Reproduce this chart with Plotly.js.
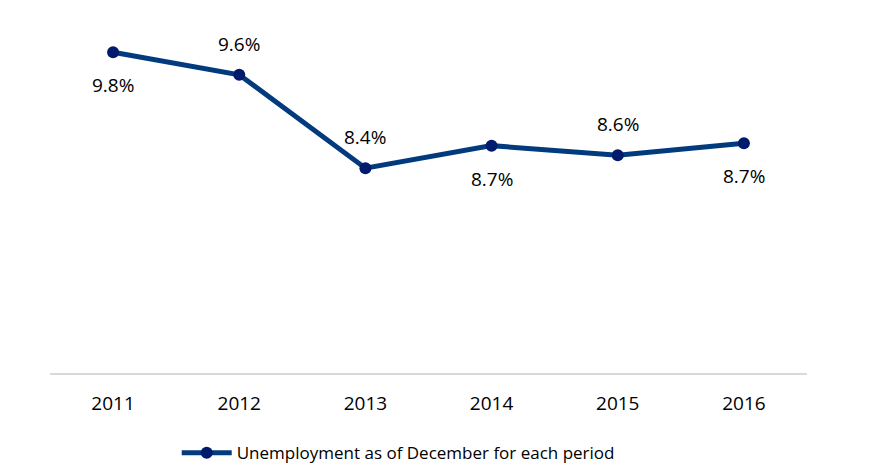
<!DOCTYPE html>
<html>
<head>
<meta charset="utf-8">
<script src="https://cdn.plot.ly/plotly-3.0.1.min.js"></script>
<style>html,body{margin:0;padding:0;background:#fff;}#chart{width:879px;height:473px;}</style>
</head>
<body>
<div id="chart"></div>
<script>
const years = ['2011', '2012', '2013', '2014', '2015', '2016'];
const unemployment = [9.84, 9.56, 8.40, 8.68, 8.56, 8.71];
const labelSide = ['below', 'above', 'above', 'below', 'above', 'below'];
const seriesName = 'Unemployment as of December for each period';

const FONT = 'Open Sans, Noto Sans, sans-serif';

const trace = {
  x: years,
  y: unemployment,
  type: 'scatter',
  mode: 'lines+markers',
  name: seriesName,
  line: {color: '#023A7E', width: 5},
  marker: {color: '#001A6E', size: 12, line: {width: 0}},
  hoverinfo: 'skip'
};

// annotations placed by category index on the category x axis
const annotations = years.map((yr, i) => ({
  x: i,
  y: unemployment[i],
  xref: 'x',
  yref: 'y',
  text: unemployment[i].toFixed(1) + '%',
  showarrow: false,
  yshift: labelSide[i] === 'above' ? 31 : -33,
  font: {family: FONT, size: 19, color: '#000000'}
}));

const layout = {
  width: 879,
  height: 473,
  margin: {l: 50, r: 72, t: 20, b: 100},
  paper_bgcolor: '#ffffff',
  plot_bgcolor: '#ffffff',
  showlegend: true,
  font: {family: FONT, color: '#000000'},
  xaxis: {
    type: 'category',
    range: [-0.5, 5.5],
    automargin: false,
    showgrid: false,
    zeroline: false,
    showline: true,
    linecolor: '#D9D9D9',
    linewidth: 1.5,
    ticks: '',
    ticklabelstandoff: 13,
    tickfont: {family: FONT, size: 19, color: '#000000'},
    fixedrange: true
  },
  yaxis: {
    range: [5.857, 10.24],
    automargin: false,
    showgrid: false,
    zeroline: false,
    showline: false,
    showticklabels: false,
    ticks: '',
    fixedrange: true
  },
  legend: {
    orientation: 'h',
    x: 0.46,
    xanchor: 'center',
    yref: 'container',
    y: 0.042,
    yanchor: 'middle',
    itemwidth: 50,
    font: {family: FONT, size: 17, color: '#000000'},
    bgcolor: 'rgba(0,0,0,0)'
  },
  annotations: annotations
};

Plotly.newPlot('chart', [trace], layout, {displayModeBar: false, staticPlot: true});
</script>
</body>
</html>
